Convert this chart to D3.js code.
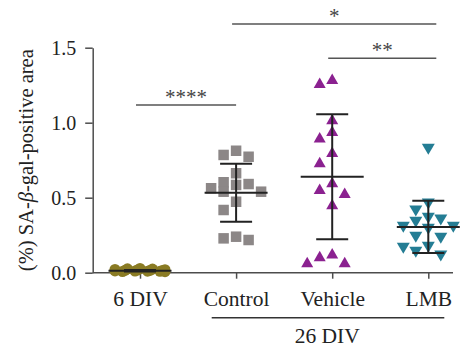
<!DOCTYPE html>
<html>
<head>
<meta charset="utf-8">
<script src="https://cdn.jsdelivr.net/npm/d3@7"></script>
<style>
  html, body { margin: 0; padding: 0; background: #fff; }
  svg { display: block; }
</style>
</head>
<body>
<div id="chart"></div>
<script>
// SA-beta-gal positive area, scatter with mean +/- SD

const categories = ['6 DIV', 'Control', 'Vehicle', 'LMB'];

const div6Values = [0.028, 0.026, 0.024, 0.022, 0.02, 0.018, 0.016, 0.015,
                    0.014, 0.012, 0.011, 0.01, 0.009, 0.008, 0.007];
const controlValues = [0.813, 0.785, 0.773, 0.663, 0.603, 0.591, 0.585, 0.563,
                       0.54, 0.54, 0.473, 0.418, 0.24, 0.229, 0.218];
const vehicleValues = [1.293, 1.267, 1.025, 0.947, 0.903, 0.807, 0.738, 0.605,
                       0.56, 0.533, 0.458, 0.129, 0.111, 0.071, 0.071];
const lmbValues = [0.823, 0.458, 0.411, 0.363, 0.351, 0.336, 0.303, 0.303,
                   0.289, 0.236, 0.229, 0.169, 0.163, 0.136, 0.111];

const means = [0.013, 0.533, 0.64, 0.305];
const sds = [0.005, 0.194, 0.417, 0.174];

const yTicks = [0, 0.5, 1.0, 1.5];

// significance comparisons: [from, to, label, level]
const comparisons = [
  ['Control', 'LMB', '*', 1.658],
  ['Vehicle', 'LMB', '**', 1.43],
  ['6 DIV', 'Control', '****', 1.118]
];
const groupLabel = '26 DIV';

(function() {
  const width = 465, height = 353;
  const left = 92.7, right = 453, top = 47.7, bottom = 272.7;
  const font = '"Liberation Serif", "DejaVu Serif", serif';
  const colors = ['#8a7b24', '#8c8787', '#8b2190', '#247d94'];
  const allValues = [div6Values, controlValues, vehicleValues, lmbValues];

  const svg = d3.select('#chart').append('svg')
    .attr('width', width)
    .attr('height', height)
    .style('background', '#fff');

  const x = d3.scalePoint().domain(categories).range([140, 428.3]);
  const y = d3.scaleLinear().domain([0, 1.5]).range([bottom, top]);

  // simple beeswarm, clamped to a max half width (overlaps spread evenly)
  function swarm(vals, cx) {
    const pts = vals.map(v => ({ v, y: y(v) })).sort((a, b) => a.y - b.y);
    const placed = [];
    const w = 11, step = 2.5, maxHalf = 26;
    const cands = [0];
    for (let k = 1; k * step <= maxHalf; k++) cands.push(-k * step, k * step);
    pts.forEach(p => {
      let best = 0, bestScore = Infinity;
      for (const o of cands) {
        let score = 0;
        placed.forEach(q => {
          const dx = Math.abs(q.o - o), dy = Math.abs(q.y - p.y);
          if (dx < w && dy < w) score += (w - dx) * (w - dy);
        });
        if (score < bestScore) { bestScore = score; best = o; if (score === 0) break; }
      }
      p.o = best;
      placed.push(p);
    });
    return placed.map(p => ({ x: cx + p.o, y: p.y }));
  }

  // Axes
  const yAxis = svg.append('g')
    .attr('transform', `translate(${left},0)`)
    .call(d3.axisLeft(y).tickValues(yTicks).tickFormat(d3.format('.1f'))
      .tickSize(7.5).tickSizeOuter(0).tickPadding(9));

  const xAxis = svg.append('g')
    .attr('transform', `translate(0,${bottom})`)
    .call(d3.axisBottom(x).tickSize(6).tickSizeOuter(0).tickPadding(12.5));
  xAxis.select('.domain').remove();

  svg.append('line')
    .attr('x1', left).attr('x2', right)
    .attr('y1', bottom).attr('y2', bottom)
    .attr('stroke', '#4d4d4d').attr('stroke-width', 1.5);

  [yAxis, xAxis].forEach(g => {
    g.selectAll('path, line').attr('stroke', '#4d4d4d').attr('stroke-width', 1.5);
    g.selectAll('text').attr('fill', '#222').attr('font-family', font).attr('font-size', '20px');
  });
  xAxis.selectAll('text').attr('font-size', '21.5px');

  // Y label
  const yl = svg.append('text')
    .attr('transform', `translate(32.5,${(top + bottom) / 2}) rotate(-90)`)
    .attr('text-anchor', 'middle')
    .attr('fill', '#222')
    .attr('font-family', font)
    .attr('font-size', '20.5px');
  yl.append('tspan').text('(%) SA-');
  yl.append('tspan').attr('font-style', 'italic').text('β');
  yl.append('tspan').text('-gal-positive area');

  // Points
  const pointsG = svg.append('g');
  allValues.forEach((vals, i) => {
    const pts = swarm(vals, x(categories[i]));
    const col = colors[i];
    pts.forEach(p => {
      if (i === 0) {
        pointsG.append('circle').attr('cx', p.x).attr('cy', p.y).attr('r', 5.5).attr('fill', col);
      } else if (i === 1) {
        pointsG.append('rect').attr('x', p.x - 5.25).attr('y', p.y - 5.25)
          .attr('width', 10.5).attr('height', 10.5).attr('fill', col);
      } else if (i === 2) {
        pointsG.append('path').attr('d', `M${p.x - 6},${p.y + 5.25}L${p.x + 6},${p.y + 5.25}L${p.x},${p.y - 5.25}Z`)
          .attr('fill', col);
      } else {
        pointsG.append('path').attr('d', `M${p.x - 6.5},${p.y - 5.5}L${p.x + 6.5},${p.y - 5.5}L${p.x},${p.y + 5.5}Z`)
          .attr('fill', col);
      }
    });
  });

  // Mean +/- SD
  const barsG = svg.append('g').attr('stroke', '#222').attr('stroke-width', 2);
  categories.forEach((c, i) => {
    const cx = x(c);
    const m = means[i], s = sds[i];
    barsG.append('line').attr('x1', cx - 31.5).attr('x2', cx + 31.5)
      .attr('y1', y(m)).attr('y2', y(m));
    barsG.append('line').attr('x1', cx).attr('x2', cx)
      .attr('y1', y(m + s)).attr('y2', y(m - s));
    [m + s, m - s].forEach(v => {
      barsG.append('line').attr('x1', cx - 16).attr('x2', cx + 16)
        .attr('y1', y(v)).attr('y2', y(v));
    });
  });

  // Significance lines
  const last = categories[categories.length - 1];
  comparisons.forEach(([a, b, label, level]) => {
    const x1 = x(a) - 4;
    const x2 = b === last ? x(b) + 8 : x(b);
    const ly = y(level);
    svg.append('line').attr('x1', x1).attr('x2', x2).attr('y1', ly).attr('y2', ly)
      .attr('stroke', '#555').attr('stroke-width', 1.5);
    svg.append('text')
      .attr('x', (x1 + x2) / 2)
      .attr('y', ly - 1.5)
      .attr('text-anchor', 'middle')
      .attr('fill', '#444')
      .attr('font-family', font)
      .attr('font-size', '21px')
      .text(label);
  });

  // 26 DIV bracket
  const bx1 = x('Control') - 24.4, bx2 = x(last) + 16;
  svg.append('line').attr('x1', bx1).attr('x2', bx2).attr('y1', 317.7).attr('y2', 317.7)
    .attr('stroke', '#333').attr('stroke-width', 1.5);
  svg.append('text')
    .attr('x', x('Vehicle') - 5)
    .attr('y', 343)
    .attr('text-anchor', 'middle')
    .attr('fill', '#222')
    .attr('font-family', font)
    .attr('font-size', '21.5px')
    .text(groupLabel);
})();
</script>
</body>
</html>
